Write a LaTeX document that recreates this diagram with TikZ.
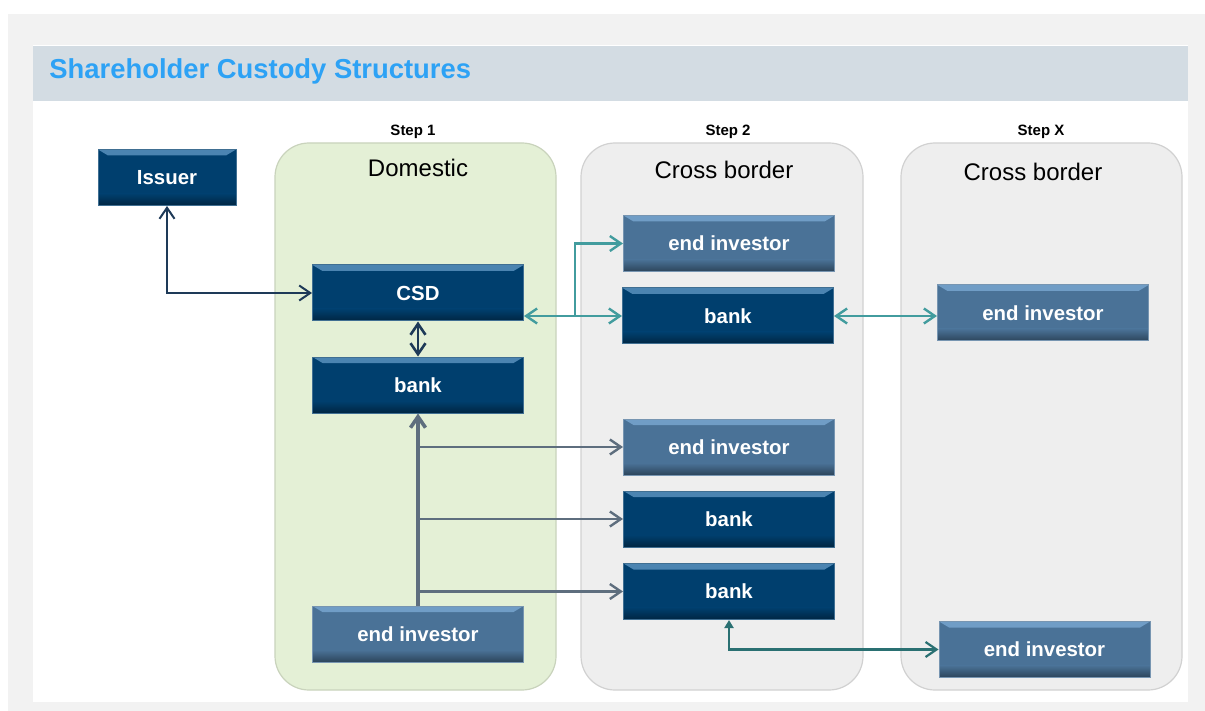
\documentclass[tikz,border=0pt]{standalone}
\usepackage{fontspec}
\setmainfont{Liberation Sans}
\usetikzlibrary{arrows.meta,positioning}

\definecolor{pagegray}{RGB}{242,242,242}
\definecolor{headband}{RGB}{211,220,227}
\definecolor{titleblue}{RGB}{45,162,245}
\definecolor{domfill}{RGB}{228,240,214}
\definecolor{crossfill}{RGB}{238,238,238}
\definecolor{navy}{RGB}{0,63,110}
\definecolor{steel}{RGB}{74,114,151}
\definecolor{bevel}{RGB}{150,200,245}
\definecolor{linknavy}{RGB}{30,58,88}
\definecolor{linkteal}{RGB}{66,156,158}
\definecolor{linkdark}{RGB}{42,112,114}
\definecolor{linkgray}{RGB}{94,110,126}

\begin{document}
\begin{tikzpicture}[
  x=0.5pt, y=-0.5pt,
  >={Straight Barb[length=5.5pt,width=7.5pt]},
  box/.style={draw=#1!75!white, line width=0.5pt, fill=#1,
              minimum width=105.5pt, minimum height=28pt, inner sep=0pt,
              text=white, font=\fontsize{10.2}{12}\selectfont\bfseries,
              path picture={
                \fill[#1!50!bevel] (path picture bounding box.north west)
                  -- (path picture bounding box.north east)
                  -- ([shift={(-5pt,-3pt)}]path picture bounding box.north east)
                  -- ([shift={(5pt,-3pt)}]path picture bounding box.north west)
                  -- cycle;
                \shade[top color=#1, bottom color=#1!60!black]
                  ([yshift=6pt]path picture bounding box.south west)
                  rectangle (path picture bounding box.south east);}},
  panel/.style={draw=#1!88!black, line width=0.6pt, fill=#1,
                rounded corners=17pt},
  ttl/.style={text=titleblue, font=\fontsize{13.7}{16}\selectfont\bfseries,
              inner sep=0pt},
  steplbl/.style={font=\fontsize{7.5}{9}\selectfont\bfseries, inner sep=0pt},
  pnl/.style={font=\fontsize{12}{14}\selectfont, inner sep=0pt},
  nv/.style={draw=linknavy, line width=1pt},
  tl/.style={draw=linkteal, line width=1.2pt},
  dk/.style={draw=linkdark, line width=1.1pt},
  gy/.style={draw=linkgray, line width=1.2pt},
]
  %% Page background and header band
  \fill[white] (0,0) rectangle (1205,711);
  \fill[pagegray] (8,14) rectangle (1205,711);
  \fill[white] (33,45) rectangle (1188,702);
  \fill[headband] (33,46) rectangle (1188,101);
  \node[ttl, anchor=base west] (title) at (49,79) {Shareholder Custody Structures};

  %% Step panels
  \path[panel=domfill] (275,143) rectangle (556,690);
  \path[panel=crossfill] (581,143) rectangle (863,690);
  \path[panel=crossfill] (901,143) rectangle (1182,690);

  \node[steplbl, anchor=base] (step1) at (413,136) {Step 1};
  \node[steplbl, anchor=base] (step2) at (728,136) {Step 2};
  \node[steplbl, anchor=base] (stepx) at (1041,136) {Step X};

  \node[pnl, anchor=base] (dom)    at (418,177) {Domestic};
  \node[pnl, anchor=base] (cross1) at (724,179) {Cross border};
  \node[pnl, anchor=base] (cross2) at (1033,181) {Cross border};

  %% Boxes
  \node[box=navy, minimum width=69pt] (issuer) at (167,177.5) {Issuer};
  \node[box=navy]  (csd)   at (418,293) {CSD};
  \node[box=navy]  (dbank) at (418,385) {bank};
  \node[box=steel] (dinv)  at (418,634) {end investor};

  \node[box=steel] (ainv1)  at (729,243.5) {end investor};
  \node[box=navy]  (abank1) at (728,316) {bank};
  \node[box=steel] (ainv2)  at (729,447) {end investor};
  \node[box=navy]  (abank2) at (729,519) {bank};
  \node[box=navy]  (abank3) at (729,591.5) {bank};

  \node[box=steel] (xinv1) at (1043,313) {end investor};
  \node[box=steel] (xinv2) at (1044.5,649.5) {end investor};

  %% Issuer and CSD links
  \draw[nv, <->] (issuer.south) |- (csd.west);
  \draw[nv, <->, line width=1.3pt] (csd.south) -- (dbank.north);

  %% CSD to step 2
  \coordinate (split) at (575,316);
  \draw[tl, <->] (csd.east |- abank1.west) -- (abank1.west);
  \draw[tl, ->] (split) |- (ainv1.west);
  \draw[tl, <->] (abank1.east) -- (abank1.east -| xinv1.west);

  %% Domestic end investor holdings
  \draw[gy, ->, line width=1.8pt] (dinv.north) -- (dbank.south);
  \foreach \t in {ainv2, abank2, abank3}
    \draw[gy, ->] (dbank.south |- \t.west) -- (\t.west);

  %% Step 2 bank to step X investor
  \draw[dk, {Triangle[length=4pt,width=4.5pt]}-{Straight Barb[length=5.5pt,width=7.5pt]}]
    (abank3.south) |- (xinv2.west);
\end{tikzpicture}
\end{document}
